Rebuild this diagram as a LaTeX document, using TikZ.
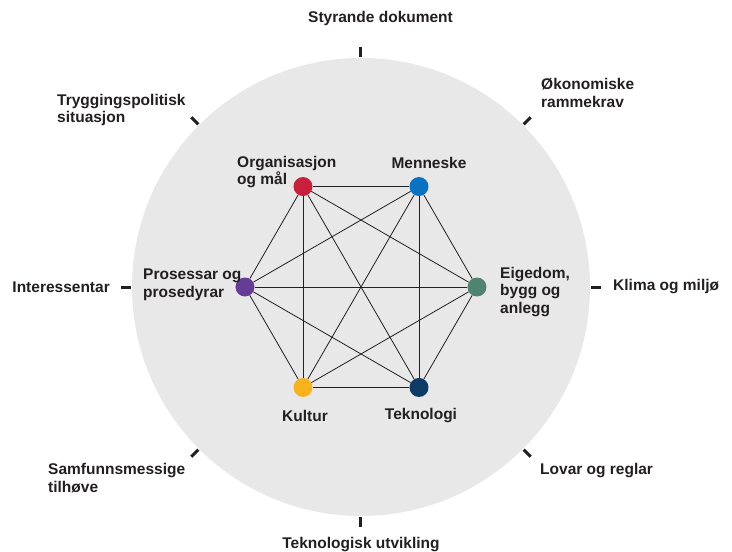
\documentclass[tikz,border=0pt]{standalone}
\usepackage{fontspec}
\setmainfont{Liberation Sans}
\usetikzlibrary{positioning}
\definecolor{ringgrey}{HTML}{E8E8E8}
\definecolor{inkgrey}{HTML}{231F20}
\definecolor{orgred}{HTML}{C8203A}
\definecolor{menblue}{HTML}{0A72C2}
\definecolor{eiggreen}{HTML}{4F8570}
\definecolor{teknavy}{HTML}{0E3A66}
\definecolor{kulyellow}{HTML}{F8B21C}
\definecolor{propurple}{HTML}{653D97}

\begin{document}
\begin{tikzpicture}[x=1pt, y=1pt,
    font=\bfseries\fontsize{15.5}{17.5}\selectfont, text=inkgrey,
    dot/.style={circle, inner sep=0pt, minimum size=19pt},
    lbl/.style={align=left, inner sep=0pt},
    rimtick/.style={line width=3pt, inkgrey}]
\useasboundingbox (-361,287) rectangle (371,-265);

    % background disc
    \fill[ringgrey] (0,0) circle (229);

    % ticks on the rim
    \foreach \ang in {0,45,...,315}
        \draw[rimtick] (\ang:230) -- (\ang:240);

    % the six fields
    \foreach \name/\ang/\col in {org/120/orgred, men/60/menblue, eig/0/eiggreen,
                                 tek/-60/teknavy, kul/-120/kulyellow, pro/180/propurple}
        \node[dot, fill=\col] (\name) at (\ang:116) {};

    % every field is linked to every other
    \foreach \a/\b in {org/men, org/eig, org/tek, org/kul, org/pro,
                       men/eig, men/tek, men/kul, men/pro,
                       eig/tek, eig/kul, eig/pro,
                       tek/kul, tek/pro, kul/pro}
        \draw[line width=0.8pt, inkgrey] (\a) -- (\b);

    % field labels
    \node[lbl, anchor=west] (orglbl) at (-124,115) {Organisasjon\\og mål};
    \node[lbl] (menlbl) at (68,124) {Menneske};
    \node[lbl, anchor=west] (eiglbl) at (139,-5) {Eigedom,\\bygg og\\anlegg};
    \node[lbl] (teklbl) at (60,-129) {Teknologi};
    \node[lbl] (kullbl) at (-56,-129) {Kultur};
    \node[lbl, anchor=west] (prolbl) at (-218,2) {Prosessar og\\prosedyrar};

    % outer labels
    \node[lbl, anchor=west] (styr) at (-53,269) {Styrande dokument};
    \node[lbl, anchor=west] (okon) at (180,194) {Økonomiske\\rammekrav};
    \node[lbl, anchor=west] (klima) at (252,0) {Klima og miljø};
    \node[lbl, anchor=west] (lovar) at (179,-184) {Lovar og reglar};
    \node[lbl] (tekutv) at (0,-258) {Teknologisk utvikling};
    \node[lbl, anchor=west] (samf) at (-313,-191) {Samfunnsmessige\\tilhøve};
    \node[lbl, anchor=east] (inter) at (-251,0) {Interessentar};
    \node[lbl, anchor=west] (trygg) at (-304,177) {Tryggingspolitisk\\situasjon};
\end{tikzpicture}
\end{document}
